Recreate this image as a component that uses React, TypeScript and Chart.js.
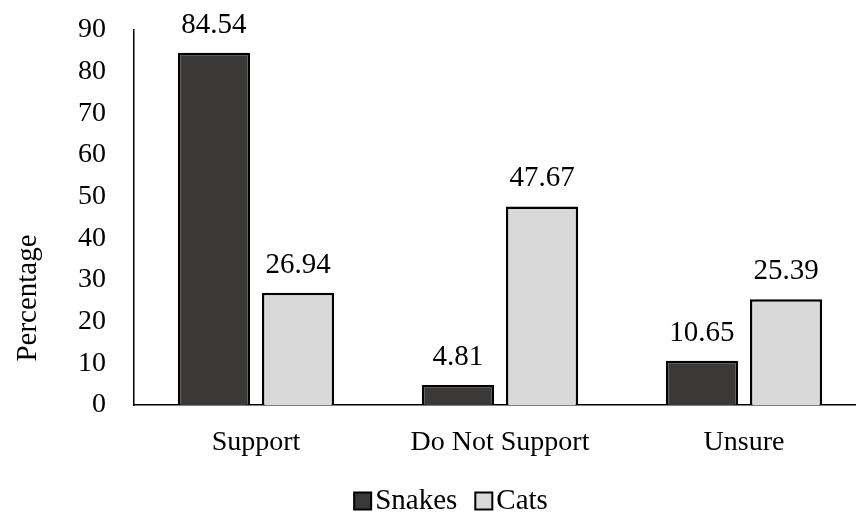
import React, { useEffect, useRef } from "react";
import { Chart, registerables } from "chart.js";

Chart.register(...registerables);

const categories = ["Support", "Do Not Support", "Unsure"];
const snakes = [84.54, 4.81, 10.65];
const cats = [26.94, 47.67, 25.39];
const yTicks = [0, 10, 20, 30, 40, 50, 60, 70, 80, 90];
const yTitle = "Percentage";

const FONT = "'Liberation Serif', 'Times New Roman', serif";

const valueLabels = {
  id: "valueLabels",
  afterDatasetsDraw(chart: any) {
    const ctx = chart.ctx;
    ctx.save();
    ctx.font = `29px ${FONT}`;
    ctx.fillStyle = "#000";
    ctx.textAlign = "center";
    ctx.textBaseline = "alphabetic";
    chart.data.datasets.forEach((ds: any, i: number) => {
      const meta = chart.getDatasetMeta(i);
      meta.data.forEach((bar: any, j: number) => {
        ctx.fillText(ds.data[j].toFixed(2), bar.x, bar.y - 20);
      });
    });
    ctx.restore();
  },
};

const extras = {
  id: "extras",
  afterDraw(chart: any) {
    const ctx = chart.ctx;
    ctx.save();
    // y axis title
    ctx.font = `29px ${FONT}`;
    ctx.fillStyle = "#000";
    ctx.translate(28, 298);
    ctx.rotate(-Math.PI / 2);
    ctx.textAlign = "center";
    ctx.textBaseline = "middle";
    ctx.fillText(yTitle, 0, 0);
    ctx.restore();

    // legend
    ctx.save();
    ctx.font = `29px ${FONT}`;
    const box = 17;
    const gap = 4;
    const itemGap = 18;
    const items = chart.data.datasets.map((ds: any) => ({
      label: ds.label,
      fill: ds.backgroundColor,
      w: box + gap + ctx.measureText(ds.label).width,
    }));
    const total = items.reduce((a: number, it: any) => a + it.w, 0) + itemGap * (items.length - 1);
    let x = 451 - total / 2;
    const cy = 501;
    items.forEach((it: any) => {
      ctx.fillStyle = it.fill;
      ctx.fillRect(x, cy - box / 2, box, box);
      ctx.strokeStyle = "#000";
      ctx.lineWidth = 2;
      ctx.strokeRect(x, cy - box / 2, box, box);
      ctx.fillStyle = "#000";
      ctx.textAlign = "left";
      ctx.textBaseline = "middle";
      ctx.fillText(it.label, x + box + gap, cy);
      x += it.w + itemGap;
    });
    ctx.restore();
  },
};

export default function App() {
  const ref = useRef<HTMLCanvasElement>(null);
  useEffect(() => {
    document.body.style.margin = "0";
    const common = {
      borderColor: "#000",
      borderWidth: 2.5,
      categoryPercentage: 0.689,
      barPercentage: 0.86,
    };
    const chart = new Chart(ref.current!, {
      type: "bar",
      data: {
        labels: categories,
        datasets: [
          { label: "Snakes", data: snakes, backgroundColor: "#3a3938", ...common },
          { label: "Cats", data: cats, backgroundColor: "#d9d9d9", ...common },
        ],
      },
      options: {
        animation: false,
        responsive: false,
        layout: { padding: { top: 30, right: 4, left: 0, bottom: 0 } },
        plugins: {
          tooltip: { enabled: false },
          legend: { display: false },
        },
        scales: {
          x: {
            grid: { display: false, drawTicks: false },
            border: { display: true, color: "#000", width: 1.5 },
            ticks: {
              font: { family: FONT, size: 28 },
              color: "#000",
              padding: 21,
            },
            afterFit(s: any) {
              s.height = 110;
              s.paddingLeft = 0;
              s.paddingRight = 0;
            },
          },
          y: {
            min: 0,
            max: 90,
            afterBuildTicks(s: any) {
              s.ticks = yTicks.map((v) => ({ value: v }));
            },
            grid: { display: false, drawTicks: false },
            border: { display: true, color: "#000", width: 1.5 },
            ticks: {
              font: { family: FONT, size: 28 },
              color: "#000",
              padding: 28,
            },
            afterFit(s: any) {
              s.width = 134;
              s.paddingTop = 0;
              s.paddingBottom = 0;
            },
          },
        },
      },
      plugins: [valueLabels, extras],
    });
    return () => chart.destroy();
  }, []);
  return (
    <div
      style={{
        position: "absolute",
        left: 0,
        top: 0,
        width: 856,
        height: 515,
        overflow: "hidden",
      }}
    >
      <canvas ref={ref} width={870} height={515} />
    </div>
  );
}
